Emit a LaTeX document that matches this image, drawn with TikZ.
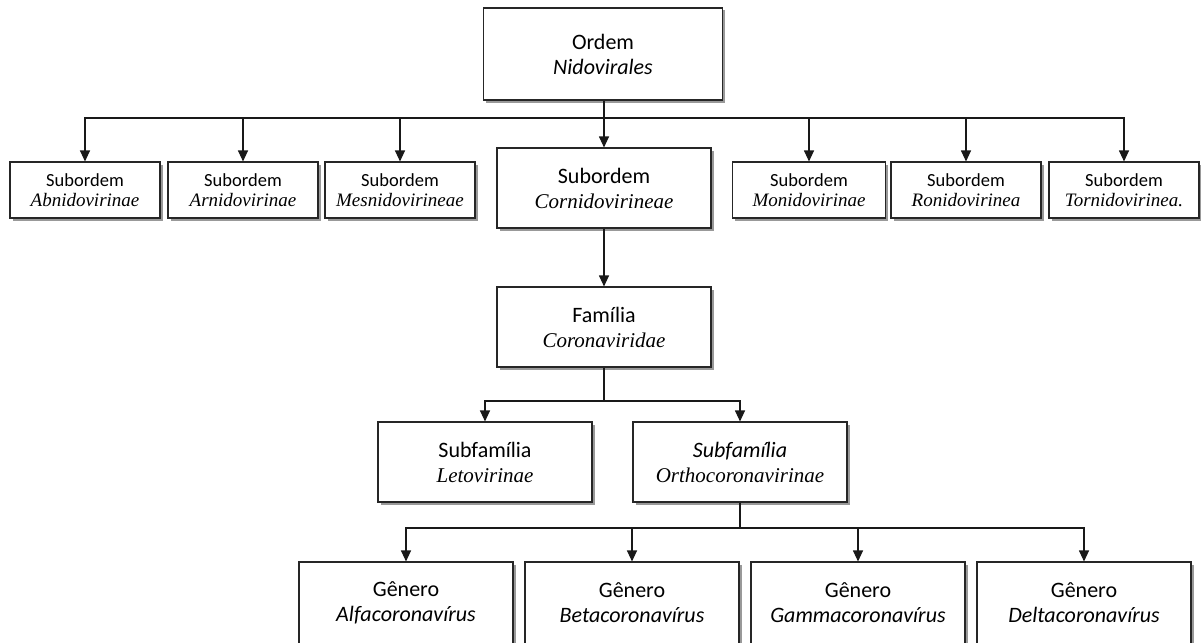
\documentclass[tikz,border=0pt]{standalone}
\usepackage{fontspec}
\setmainfont{Carlito}
\newfontfamily\serifit{Liberation Serif}
\usetikzlibrary{arrows.meta,shadows}
\tikzset{
  box/.style={draw=black!85, line width=1.1pt, fill=white, align=center, inner sep=0pt,
    drop shadow={shadow xshift=2.5pt, shadow yshift=-2.5pt, fill=black, opacity=0.4}},
  big/.style={box, minimum width=214pt, minimum height=80pt, font=\fontsize{22}{25}\selectfont},
  small/.style={box, minimum width=150pt, minimum height=56pt, font=\fontsize{18.5}{20}\selectfont},
  conn/.style={line width=1.1pt, draw=black!90},
  arr/.style={conn, -{Triangle[width=10pt,length=11pt]}},
}
\newcommand{\sbig}[1]{{\serifit\itshape\fontsize{21}{25}\selectfont #1}}
\newcommand{\ssmall}[1]{{\serifit\itshape\fontsize{19}{20}\selectfont #1}}
\begin{document}
\begin{tikzpicture}[x=1pt,y=-1pt]
\useasboundingbox (0,0) rectangle (1201,642);
\clip (0,0) rectangle (1201,642);
\fill[white] (0,0) rectangle (1201,642);
% nodes
\node[big, minimum width=239pt, minimum height=92pt] (ordem) at (603,54) {Ordem\\\textit{Nidovirales}};
\node[small] (s1) at (85,190) {Subordem\\\ssmall{Abnidovirinae}};
\node[small] (s2) at (243,190) {Subordem\\\ssmall{Arnidovirinae}};
\node[small] (s3) at (400,190) {Subordem\\\ssmall{Mesnidovirineae}};
\node[big] (cor) at (604,188) {Subordem\\\sbig{Cornidovirineae}};
\node[small, minimum width=153pt] (s5) at (809,190) {Subordem\\\ssmall{Monidovirinae}};
\node[small] (s6) at (966,190) {Subordem\\\ssmall{Ronidovirinea}};
\node[small] (s7) at (1124,190) {Subordem\\\ssmall{Tornidovirinea.}};
\node[big] (fam) at (604,327) {Família\\\sbig{Coronaviridae}};
\node[big] (let) at (485,462) {Subfamília\\\sbig{Letovirinae}};
\node[big] (ort) at (740,462) {\textit{Subfamília}\\\sbig{Orthocoronavirinae}};
\node[big, minimum height=82pt] (g1) at (406,603) {Gênero\\\textit{Alfacoronavírus}};
\node[big, minimum height=82pt] (g2) at (632,603) {Gênero\\\textit{Betacoronavírus}};
\node[big, minimum height=82pt] (g3) at (858,603) {Gênero\\\textit{Gammacoronavírus}};
\node[big, minimum height=82pt] (g4) at (1084,603) {Gênero\\\textit{Deltacoronavírus}};
% connectors
\coordinate (bus1) at (604,118);
\coordinate (bus2) at (604,401);
\coordinate (bus3) at (740,528);
\draw[conn] (ordem.south -| bus1) -- (bus1);
\foreach \n in {s1,s2,s3,cor,s5,s6,s7} \draw[arr] (bus1) -| (\n.north);
\draw[conn] (fam.south) -- (bus2);
\foreach \n in {let,ort} \draw[arr] (bus2) -| (\n.north);
\draw[arr] (cor.south) -- (fam.north);
\draw[conn] (ort.south) -- (bus3);
\foreach \n in {g1,g2,g3,g4} \draw[arr] (bus3) -| (\n.north);
\end{tikzpicture}
\end{document}
